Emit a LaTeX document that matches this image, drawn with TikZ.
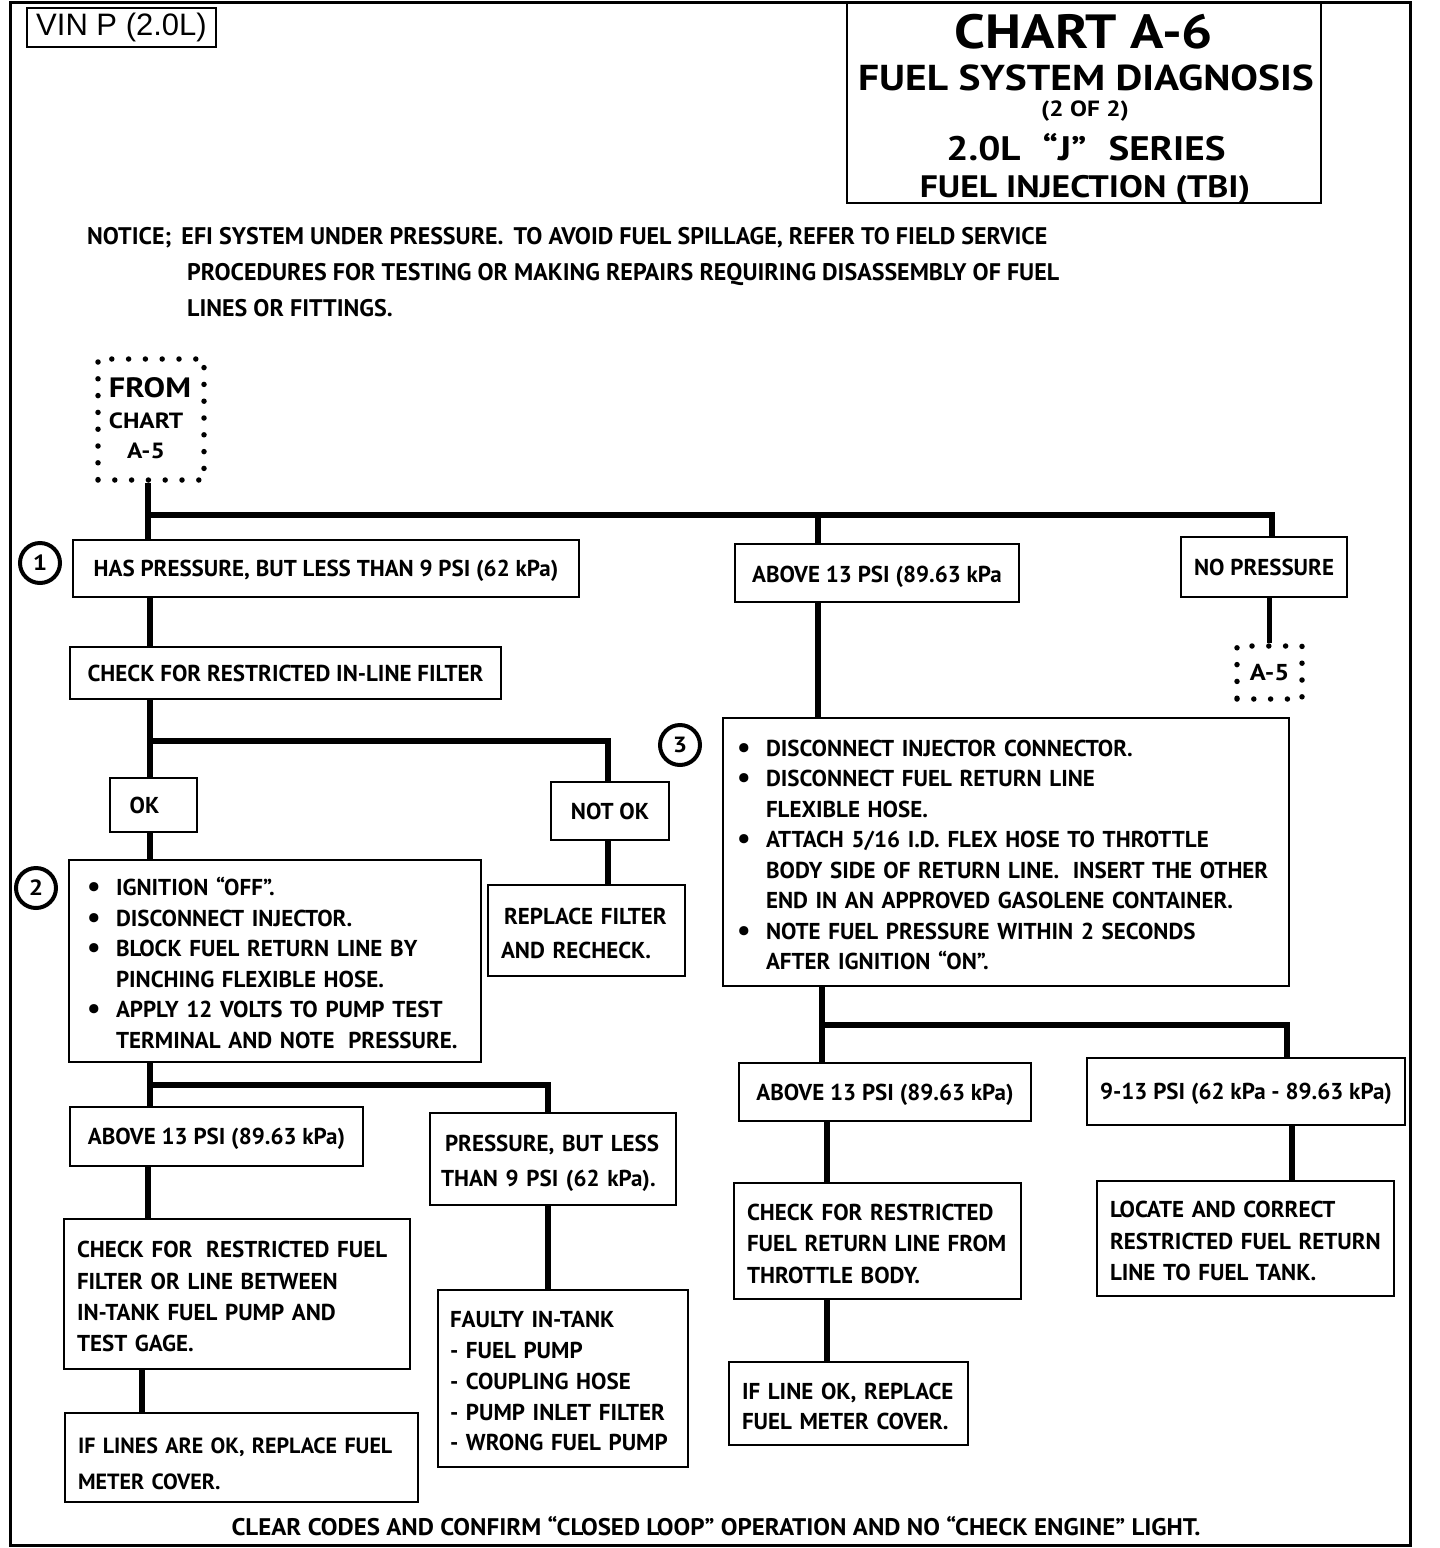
\documentclass[tikz,border=0pt]{standalone}
\usepackage{fontspec}
\setmainfont{PT Sans}
\setsansfont{Liberation Sans}
\newfontfamily\tfont{PT Sans}[FakeStretch=1.15]
\newfontfamily\bfont{PT Sans}
\newfontfamily\ffont{PT Sans}[FakeStretch=1.04]
\newcommand\bul{\makebox[29pt][l]{\raisebox{-1pt}{\rmfamily\bfseries\fontsize{30}{30}\selectfont •}}}
\newcommand\ind{\hspace*{29pt}}
\newcommand\st{\rule{0pt}{22pt}}
\begin{document}
\begin{tikzpicture}[x=1pt,y=-1pt,
  lbox/.style={draw, line width=2.6pt, inner sep=0pt, font=\bfont\bfseries\fontsize{23}{30.5}\selectfont, align=left},
  box/.style={draw, line width=2.6pt, inner sep=0pt, text depth=0pt, font=\bfont\bfseries\fontsize{23}{30.5}\selectfont},
  conn/.style={line width=5.5pt},
  dotbox/.style={draw, line width=5.5pt, line cap=round, dash pattern=on 0pt off 16.8pt, inner sep=0pt},
  numc/.style={circle, draw, line width=4pt, minimum size=40pt, inner sep=0pt, font=\tfont\bfseries\fontsize{22}{22}\selectfont},
  txt/.style={inner sep=0pt, font=\bfont\bfseries\fontsize{24}{30.5}\selectfont},
  ttl/.style={inner sep=0pt, anchor=base, font=\tfont\bfseries\fontsize{#1}{#1}\selectfont},
]
\useasboundingbox (0,0) rectangle (1440,1548);
\fill[white] (0,0) rectangle (1440,1548);
\draw[line width=3pt] (10,2) rectangle (1410,1545);

% header
\node[draw, line width=2pt, inner sep=0pt, minimum width=189pt, minimum height=39pt,
      font=\sffamily\fontsize{31}{31}\selectfont] (vin) at (121.5,27.5) {VIN P (2.0L)};
\node[draw, line width=2.5pt, minimum width=474pt, minimum height=200pt, inner sep=0pt] (title) at (1084,103) {};
\node[ttl=48] (t1) at (1084,48) {CHART A-6};
\node[ttl=36] (t2) at (1086,90) {FUEL SYSTEM DIAGNOSIS};
\node[ttl=22] (t3) at (1085,116) {(2 OF 2)};
\node[ttl=34] (t4) at (1086,160) {2.0L\hspace{22pt}“J”\hspace{22pt}SERIES};
\node[ttl=31] (t5) at (1085,197) {FUEL INJECTION (TBI)};

\node[txt, anchor=base west] (n1) at (87,244) {NOTICE;\hspace{10pt}EFI SYSTEM UNDER PRESSURE.\hspace{10pt}TO AVOID FUEL SPILLAGE, REFER TO FIELD SERVICE};
\node[txt, anchor=base west] (n2) at (187,280) {PROCEDURES FOR TESTING OR MAKING REPAIRS REQUIRING DISASSEMBLY OF FUEL};
\node[txt, anchor=base west] (n3) at (187,316) {LINES OR FITTINGS.};

% from chart A-5
\node[dotbox, minimum width=106pt, minimum height=121pt] (fromb) at (151,419.5) {};
\node[ttl=28] (f1) at (150,397) {FROM};
\node[ttl=22] (f2) at (146,428) {CHART};
\node[ttl=22] (f3) at (146,458) {A-5};

% row 1
\node[numc] (c1) at (40,563) {1};
\node[box, minimum width=506pt, minimum height=57pt] (hp) at (326,568.5) {HAS PRESSURE, BUT LESS THAN 9 PSI (62 kPa)};
\node[box, minimum width=284pt, minimum height=58pt] (ab1) at (877,573) {\raisebox{-3pt}{ABOVE 13 PSI (89.63 kPa}};
\node[box, minimum width=166pt, minimum height=60pt] (nop) at (1264,567) {NO PRESSURE};
\node[dotbox, minimum width=65pt, minimum height=53pt, text depth=0pt, font=\tfont\bfseries\fontsize{23}{23}\selectfont] (a5) at (1269.5,672.5) {A-5};

% left branch
\node[box, minimum width=431pt, minimum height=52pt] (chk1) at (285.5,673) {CHECK FOR RESTRICTED IN-LINE FILTER};
\node[box, minimum width=87pt, minimum height=54pt] (ok) at (153.5,805) {\hspace*{-18pt}OK};
\node[box, minimum width=118pt, minimum height=58pt] (nok) at (610,811) {NOT OK};
\node[numc] (c2) at (36,888) {2};
\node[lbox, minimum height=202pt, text width=376pt, inner xsep=18pt] (b2) at (275,961) {%
\st\bul IGNITION “OFF”.\\
\bul DISCONNECT INJECTOR.\\
\bul BLOCK FUEL RETURN LINE BY\\
\ind PINCHING FLEXIBLE HOSE.\\
\bul APPLY 12 VOLTS TO PUMP TEST\\
\ind TERMINAL AND NOTE\hspace{6pt} PRESSURE.};
\node[lbox, minimum height=91pt, text width=171pt, inner xsep=13pt, font=\bfont\bfseries\fontsize{23}{34}\selectfont] (rep) at (586.5,930.5) {\st\hspace*{3pt}REPLACE FILTER\\AND RECHECK.};
\node[box, minimum width=293pt, minimum height=59pt] (ab3) at (216.5,1136.5) {ABOVE 13 PSI (89.63 kPa)};
\node[lbox, minimum height=92pt, text width=224pt, inner xsep=11pt, font=\bfont\bfseries\fontsize{23}{35}\selectfont] (prs) at (553,1159) {\rule{0pt}{26pt}\hspace*{4pt}PRESSURE, BUT LESS\\THAN 9 PSI (62 kPa).};
\node[lbox, minimum height=150pt, text width=320pt, inner xsep=13pt, font=\bfont\bfseries\fontsize{23}{31.3}\selectfont] (chk2) at (237,1294) {\st CHECK FOR\hspace{6pt} RESTRICTED FUEL\\FILTER OR LINE BETWEEN\\IN-TANK FUEL PUMP AND\\TEST GAGE.};
\node[lbox, minimum height=89pt, text width=327pt, inner xsep=13pt, font=\bfont\bfseries\fontsize{22}{36}\selectfont] (ifl) at (241.5,1457.5) {\rule{0pt}{28pt}\mbox{IF LINES ARE OK, REPLACE FUEL}\\METER COVER.};
\node[lbox, minimum height=177pt, text width=226pt, inner xsep=12pt, font=\bfont\bfseries\fontsize{23}{30.8}\selectfont] (flt) at (563,1378.5) {\st FAULTY IN-TANK\\- FUEL PUMP\\- COUPLING HOSE\\- PUMP INLET FILTER\\- WRONG FUEL PUMP};

% right branch
\node[numc] (c3) at (680,745) {3};
\node[lbox, minimum height=268pt, text width=538pt, inner xsep=14pt] (b3) at (1006,852) {%
\st\bul DISCONNECT INJECTOR CONNECTOR.\\
\bul DISCONNECT FUEL RETURN LINE\\
\ind FLEXIBLE HOSE.\\
\bul ATTACH 5/16 I.D. FLEX HOSE TO THROTTLE\\
\ind BODY SIDE OF RETURN LINE.\hspace{6pt} INSERT THE OTHER\\
\ind END IN AN APPROVED GASOLENE CONTAINER.\\
\bul NOTE FUEL PRESSURE WITHIN 2 SECONDS\\
\ind AFTER IGNITION “ON”.};
\node[box, minimum width=292pt, minimum height=58pt] (ab2) at (885,1092) {ABOVE 13 PSI (89.63 kPa)};
\node[box, minimum width=318pt, minimum height=67pt] (r913) at (1246,1091.5) {9-13 PSI (62 kPa - 89.63 kPa)};
\node[lbox, minimum height=116pt, text width=261pt, inner xsep=13pt, font=\bfont\bfseries\fontsize{23}{31.5}\selectfont] (chk3) at (877.5,1241) {\st CHECK FOR RESTRICTED\\FUEL RETURN LINE FROM\\THROTTLE BODY.};
\node[lbox, minimum height=83pt, text width=213pt, inner xsep=13pt] (ifo) at (848.5,1403.5) {\st IF LINE OK, REPLACE\\FUEL METER COVER.};
\node[lbox, minimum height=115pt, text width=271pt, inner xsep=13pt, font=\bfont\bfseries\fontsize{23}{31.5}\selectfont] (loc) at (1245.5,1238.5) {\st LOCATE AND CORRECT\\RESTRICTED FUEL RETURN\\LINE TO FUEL TANK.};

\node[inner sep=0pt, anchor=base, font=\ffont\bfseries\fontsize{24}{24}\selectfont] (foot) at (716,1535) {CLEAR CODES AND CONFIRM “CLOSED LOOP” OPERATION AND NO “CHECK ENGINE” LIGHT.};

% junction coordinates
\coordinate (j1) at (148,515);
\coordinate (j1m) at (818,515);
\coordinate (j1r) at (1272,515);
\coordinate (j2) at (150,741);
\coordinate (j2r) at (608,741);
\coordinate (j3) at (150,1085);
\coordinate (j3r) at (548,1085);
\coordinate (k1) at (142,1369);
\coordinate (j4) at (822,1025);
\coordinate (j4r) at (1287,1025);
\coordinate (k2) at (827,1150);
\coordinate (k3) at (1292,1150);

% connectors
\draw[conn] (fromb.south -| j1) -- (hp.north -| j1);
\draw[conn] (j1) -- (j1r) -- (nop.north -| j1r);
\draw[conn] (j1m) -- (ab1.north -| j1m);
\draw[conn] (nop.south -| a5) -- (a5.north);
\draw[conn] (ab1.south -| j1m) -- (b3.north -| j1m);
\draw[conn] (hp.south -| j2) -- (chk1.north -| j2);
\draw[conn] (chk1.south -| j2) -- (ok.north -| j2);
\draw[conn] (j2) -- (j2r) -- (nok.north -| j2r);
\draw[conn] (ok.south -| j2) -- (b2.north -| j2);
\draw[conn] (nok.south -| j2r) -- (rep.north -| j2r);
\draw[conn] (b2.south -| j3) -- (ab3.north -| j3);
\draw[conn] (j3) -- (j3r) -- (prs.north -| j3r);
\draw[conn] (ab3.south -| j1) -- (chk2.north -| j1);
\draw[conn] (chk2.south -| k1) -- (ifl.north -| k1);
\draw[conn] (prs.south -| j3r) -- (flt.north -| j3r);
\draw[conn] (b3.south -| j4) -- (ab2.north -| j4);
\draw[conn] (j4) -- (j4r) -- (r913.north -| j4r);
\draw[conn] (ab2.south -| k2) -- (chk3.north -| k2);
\draw[conn] (chk3.south -| k2) -- (ifo.north -| k2);
\draw[conn] (r913.south -| k3) -- (loc.north -| k3);
\end{tikzpicture}
\end{document}
